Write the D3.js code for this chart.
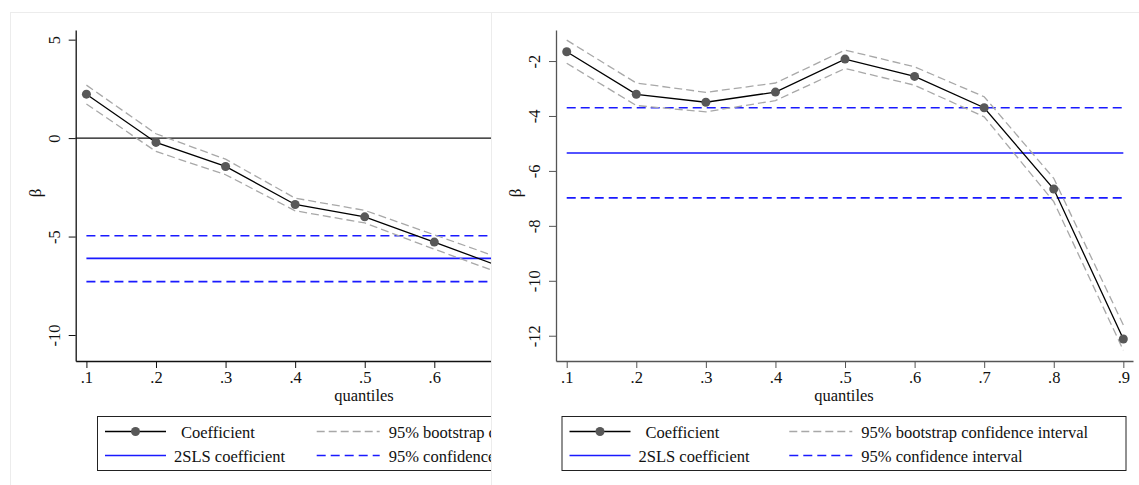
<!DOCTYPE html>
<html>
<head>
<meta charset="utf-8">
<title>Quantile coefficients</title>
<script src="https://d3js.org/d3.v7.min.js"></script>
<style>
  body { margin: 0; background: #fff; }
  svg text { font-family: "Liberation Serif", Tinos, "DejaVu Serif", serif; fill: #111; }
</style>
</head>
<body>
<div id="chart"></div>
<script>
// quantiles on the x axis
var quantiles = [0.1, 0.2, 0.3, 0.4, 0.5, 0.6, 0.7, 0.8, 0.9];
var xTickLabels = [".1", ".2", ".3", ".4", ".5", ".6", ".7", ".8", ".9"];

// left panel (cut off on the right in the original)
var leftCoef  = [2.23, -0.22, -1.44, -3.37, -4.00, -5.28, -6.59];
var leftUpper = [2.69,  0.22, -1.07, -3.05, -3.67, -4.91, -6.16];
var leftLower = [1.73, -0.68, -1.86, -3.69, -4.31, -5.64, -6.93];
var leftSls = -6.11, leftSlsHigh = -4.96, leftSlsLow = -7.29;
var leftYTicks = [5, 0, -5, -10];

// right panel
var rightCoef  = [-1.66, -3.21, -3.50, -3.13, -1.93, -2.56, -3.70, -6.66, -12.12];
var rightUpper = [-1.24, -2.80, -3.14, -2.80, -1.60, -2.21, -3.30, -6.27, -11.61];
var rightLower = [-2.08, -3.62, -3.85, -3.44, -2.27, -2.88, -4.03, -7.12, -12.53];
var rightSls = -5.35, rightSlsHigh = -3.70, rightSlsLow = -6.98;
var rightYTicks = [-2, -4, -6, -8, -10, -12];

var legendLabels = ["Coefficient", "2SLS coefficient", "95% bootstrap confidence interval", "95% confidence interval"];

var serif = "'Liberation Serif', Tinos, 'DejaVu Serif', serif";

var svg = d3.select("#chart").append("svg")
    .attr("width", 1139)
    .attr("height", 485)
    .attr("font-family", serif);

// panel frames
svg.append("rect").attr("x", 10.5).attr("y", 12.5).attr("width", 481).attr("height", 480)
    .attr("fill", "#fff").attr("stroke", "#ececec");
svg.append("rect").attr("x", 491.5).attr("y", 12.5).attr("width", 660).attr("height", 480)
    .attr("fill", "#fff").attr("stroke", "#ececec");

svg.append("clipPath").attr("id", "clipLeft")
    .append("rect").attr("x", 10).attr("y", 0).attr("width", 481).attr("height", 485);

function drawPanel(opt) {
    var g = svg.append("g");
    if (opt.clip) g.attr("clip-path", "url(#" + opt.clip + ")");

    var x = d3.scaleLinear().domain([0.0846, 0.9139]).range([opt.axisX, opt.axisX + 577]);
    var y = d3.scaleLinear().domain(opt.yDomain).range([361, 30]);
    var n = opt.coef.length;
    var q = quantiles.slice(0, n);

    // zero line
    if (opt.zero) {
        g.append("line")
            .attr("x1", x.range()[0]).attr("x2", x.range()[1])
            .attr("y1", y(0)).attr("y2", y(0))
            .attr("stroke", "#111").attr("stroke-width", 1.2);
    }

    // 2SLS lines
    var sls = [
        { v: opt.slsHigh, dash: "9,5" },
        { v: opt.sls, dash: null },
        { v: opt.slsLow, dash: "9,5" }
    ];
    g.selectAll(".sls").data(sls).enter().append("line")
        .attr("x1", x(0.1)).attr("x2", x(0.9))
        .attr("y1", function (d) { return y(d.v); })
        .attr("y2", function (d) { return y(d.v); })
        .attr("stroke", "#1a1aff").attr("stroke-width", 1.6)
        .attr("stroke-dasharray", function (d) { return d.dash; });

    var line = d3.line()
        .x(function (d) { return x(d[0]); })
        .y(function (d) { return y(d[1]); });

    // bootstrap band
    [opt.upper, opt.lower].forEach(function (arr) {
        g.append("path")
            .datum(d3.zip(q, arr))
            .attr("fill", "none").attr("stroke", "#a8a8a8")
            .attr("stroke-width", 1.3).attr("stroke-dasharray", "8,4")
            .attr("d", line);
    });

    // coefficient
    g.append("path")
        .datum(d3.zip(q, opt.coef))
        .attr("fill", "none").attr("stroke", "#000").attr("stroke-width", 1.3)
        .attr("d", line);
    g.selectAll(".pt").data(d3.zip(q, opt.coef)).enter().append("circle")
        .attr("cx", function (d) { return x(d[0]); })
        .attr("cy", function (d) { return y(d[1]); })
        .attr("r", 4.5).attr("fill", "#585858");

    // y axis
    var ya = g.append("g")
        .attr("transform", "translate(" + opt.axisX + ",0)")
        .call(d3.axisLeft(y).tickValues(opt.yTicks).tickSize(7).tickSizeOuter(0)
            .tickFormat(function (d) { return d < 0 ? "-" + Math.abs(d) : d; }));
    ya.attr("font-family", serif).attr("font-size", 16.5);
    ya.select(".domain").attr("stroke", opt.axisColor).attr("stroke-width", 1.3);
    ya.selectAll(".tick line").attr("stroke", opt.axisColor);
    ya.selectAll(".tick text")
        .attr("transform", "rotate(-90)")
        .attr("x", 0).attr("y", -16).attr("dy", null)
        .attr("text-anchor", "middle");

    // x axis (only the ticks that fall inside the visible panel)
    var xTicks = quantiles.filter(function (d) { return x(d) <= opt.visibleRight; });
    var xa = g.append("g")
        .attr("transform", "translate(0,361)")
        .call(d3.axisBottom(x).tickValues(xTicks).tickSize(7).tickSizeOuter(0)
            .tickFormat(function (d) { return xTickLabels[quantiles.indexOf(d)]; }));
    xa.attr("font-family", serif).attr("font-size", 16.5);
    xa.select(".domain").attr("stroke", opt.axisColor).attr("stroke-width", 1.3);
    xa.selectAll(".tick line").attr("stroke", opt.axisColor);
    xa.selectAll(".tick text")
        .attr("y", 22).attr("dy", null);

    // axis titles
    g.append("text")
        .attr("transform", "translate(" + opt.betaX + ",193) rotate(-90)")
        .attr("text-anchor", "middle")
        .style("font-size", "17px")
        .text("\u03b2");
    g.append("text")
        .attr("x", opt.titleX).attr("y", 401)
        .attr("text-anchor", "middle")
        .style("font-size", "16.5px")
        .text("quantiles");

    // legend
    var L = opt.legend;
    g.append("rect")
        .attr("x", L.x + 0.5).attr("y", 416.5).attr("width", L.w).attr("height", 54)
        .attr("fill", "#fff").attr("stroke", "#222").attr("stroke-width", 1);
    var rows = [431.5, 455.5];
    // coefficient key
    g.append("line").attr("x1", L.x + 8).attr("x2", L.x + 69).attr("y1", rows[0]).attr("y2", rows[0])
        .attr("stroke", "#000").attr("stroke-width", 1.3);
    g.append("circle").attr("cx", L.x + 38.5).attr("cy", rows[0]).attr("r", 4.5).attr("fill", "#585858");
    // 2SLS key
    g.append("line").attr("x1", L.x + 8).attr("x2", L.x + 69).attr("y1", rows[1]).attr("y2", rows[1])
        .attr("stroke", "#1a1aff").attr("stroke-width", 1.6);
    // bootstrap key
    g.append("line").attr("x1", L.c2).attr("x2", L.c2 + 63).attr("y1", rows[0]).attr("y2", rows[0])
        .attr("stroke", "#a8a8a8").attr("stroke-width", 1.3).attr("stroke-dasharray", "8,4");
    // 95% ci key
    g.append("line").attr("x1", L.c2).attr("x2", L.c2 + 63).attr("y1", rows[1]).attr("y2", rows[1])
        .attr("stroke", "#1a1aff").attr("stroke-width", 1.6).attr("stroke-dasharray", "9,5");

    var labelPos = [
        [L.x + 84, rows[0]], [L.x + 77, rows[1]],
        [L.c2 + 72, rows[0]], [L.c2 + 72, rows[1]]
    ];
    g.selectAll(".leg").data(legendLabels).enter().append("text")
        .attr("x", function (d, i) { return labelPos[i][0]; })
        .attr("y", function (d, i) { return labelPos[i][1] + 6; })
        .style("font-size", "16.5px")
        .text(function (d) { return d; });
}

drawPanel({
    clip: "clipLeft",
    visibleRight: 491,
    axisX: 75.7,
    yDomain: [-11.32, 5.49],
    yTicks: leftYTicks,
    coef: leftCoef, upper: leftUpper, lower: leftLower,
    sls: leftSls, slsHigh: leftSlsHigh, slsLow: leftSlsLow,
    zero: true,
    axisColor: "#111",
    betaX: 41,
    titleX: 364,
    legend: { x: 97, w: 564, c2: 316.7 }
});

drawPanel({
    clip: null,
    visibleRight: 1139,
    axisX: 556,
    yDomain: [-12.92, -0.87],
    yTicks: rightYTicks,
    coef: rightCoef, upper: rightUpper, lower: rightLower,
    sls: rightSls, slsHigh: rightSlsHigh, slsLow: rightSlsLow,
    zero: false,
    axisColor: "#555",
    betaX: 521,
    titleX: 844,
    legend: { x: 561.5, w: 564, c2: 789.3 }
});
</script>
</body>
</html>
